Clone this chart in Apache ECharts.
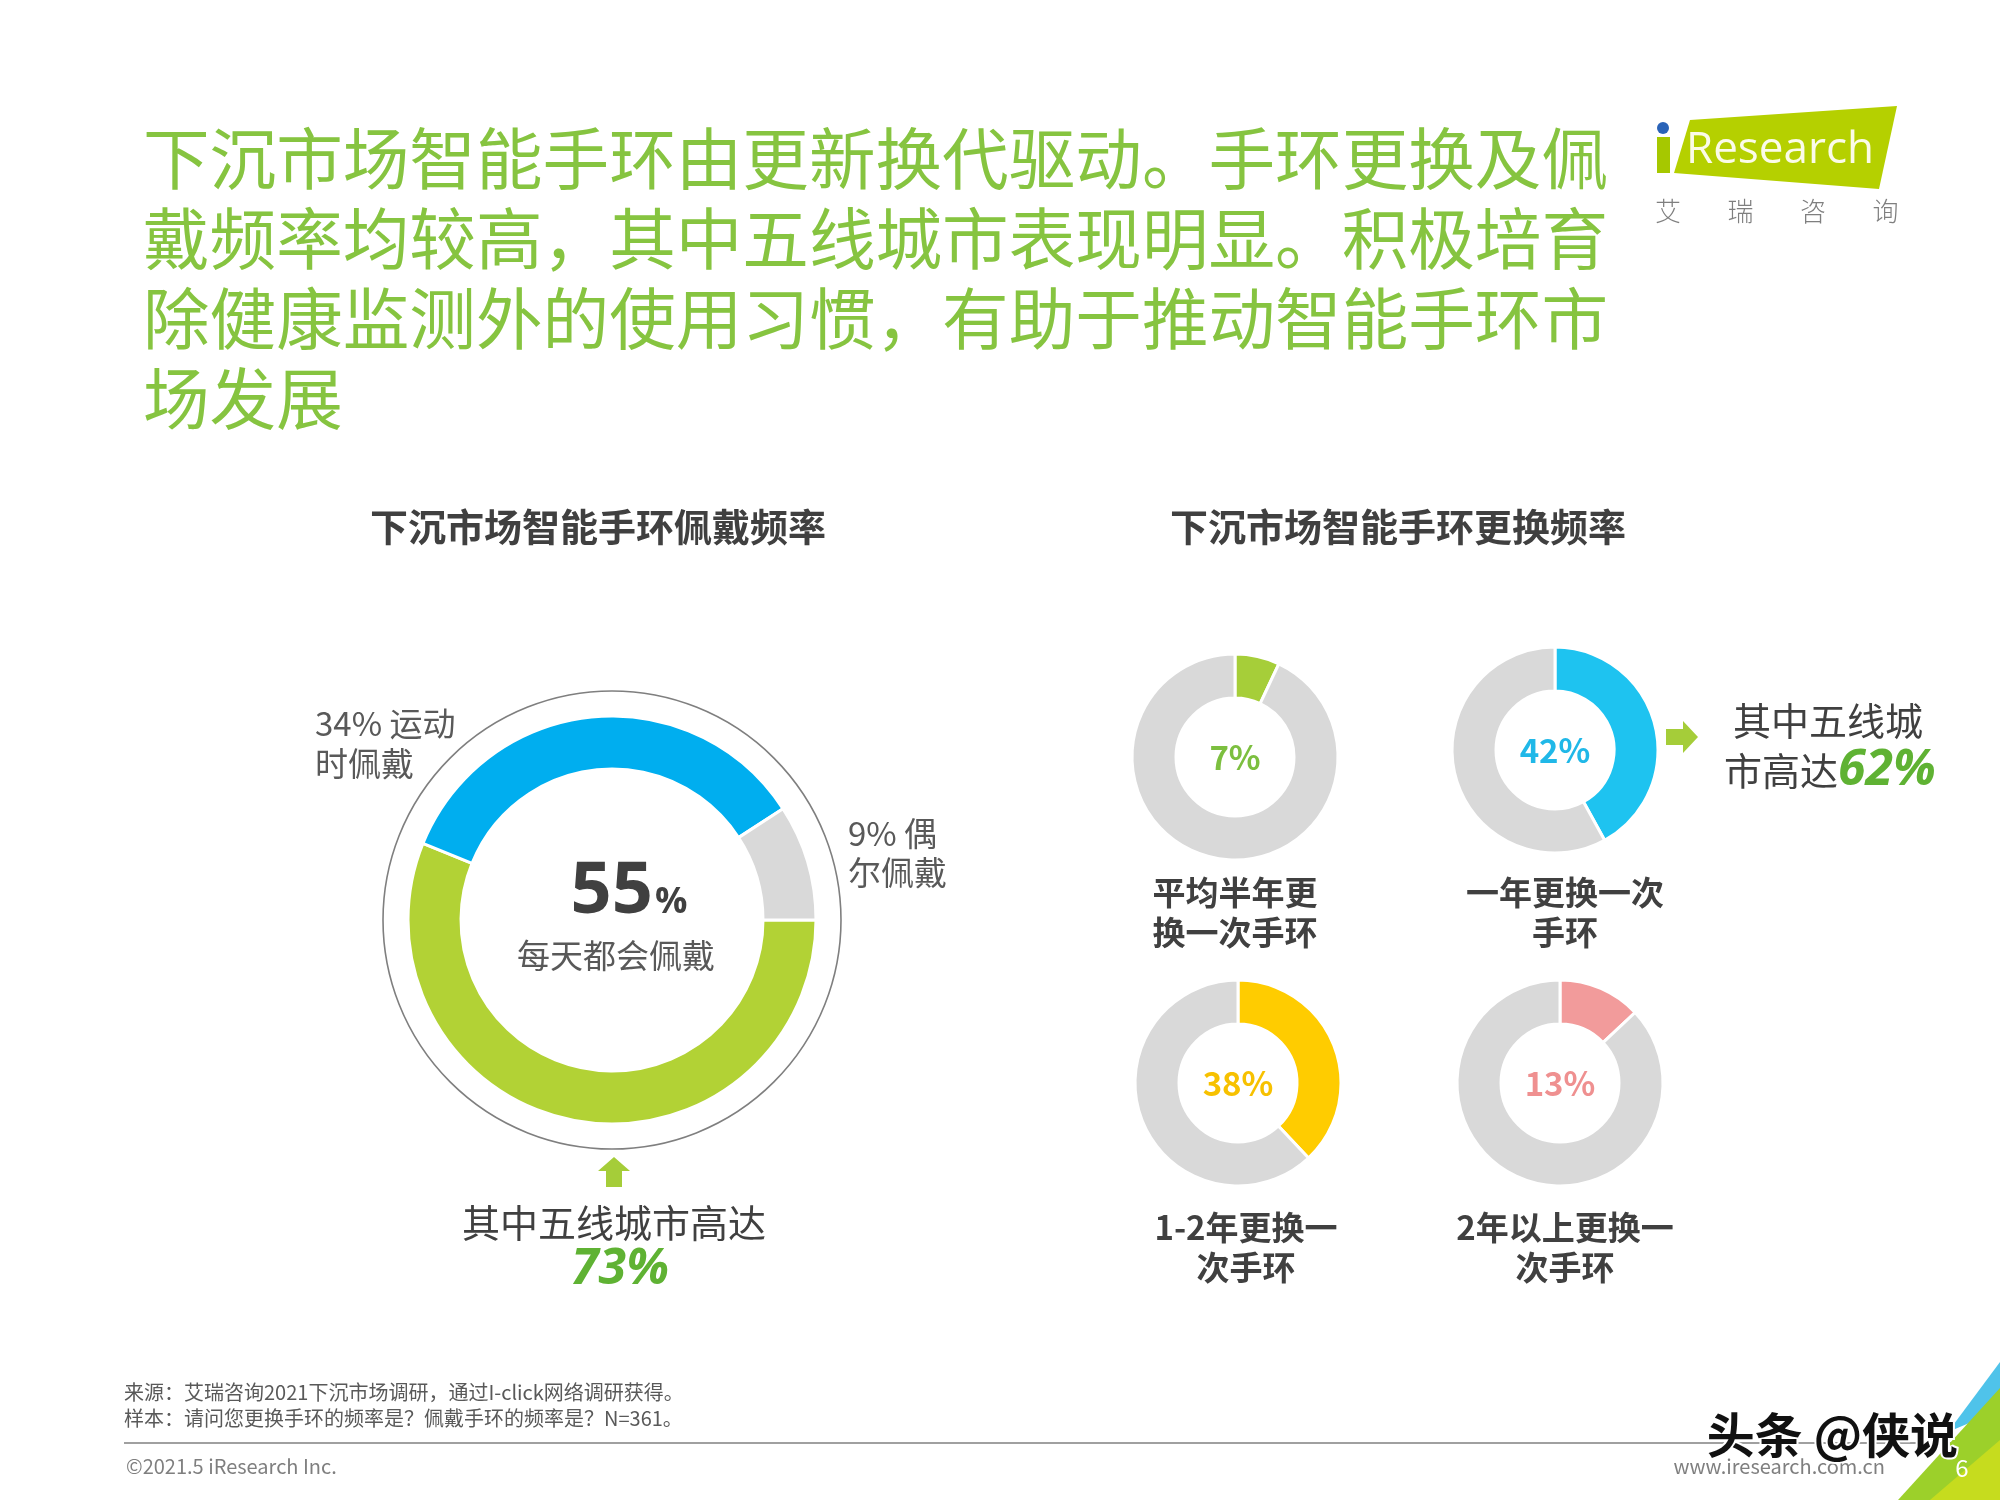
<!DOCTYPE html>
<html><head><meta charset="utf-8">
<script src="https://cdn.jsdelivr.net/npm/echarts@6/dist/echarts.min.js"></script>
<style>html,body{margin:0;padding:0;background:#fff}#c{width:2000px;height:1500px}</style>
</head><body><div id="c"></div>
<script>
// ---- data ----
const titleLines = ['下沉市场智能手环由更新换代驱动。手环更换及佩','戴频率均较高，其中五线城市表现明显。积极培育','除健康监测外的使用习惯，有助于推动智能手环市','场发展'];
const wearTitle = '下沉市场智能手环佩戴频率';
const wearCats = ['每天都会佩戴','运动时佩戴','偶尔佩戴'];
const wearValues = [55, 34, 9];
const wearFifthTier = 73;
const replTitle = '下沉市场智能手环更换频率';
const replCats = [['平均半年更','换一次手环'],['一年更换一次','手环'],['1-2年更换一','次手环'],['2年以上更换一','次手环']];
const replValues = [7, 42, 38, 13];
const replFifthTier = 62;
const sourceNotes = ['来源：艾瑞咨询2021下沉市场调研，通过I-click网络调研获得。','样本：请问您更换手环的频率是？佩戴手环的频率是？N=361。'];

// ---- styles ----
const FONT = '"Noto Sans CJK SC", "Noto Sans", sans-serif';
const wearColors = ['#b2d235', '#00aeef', '#d9d9d9'];
const replColors = ['#a6ce39', '#1ec3f0', '#ffcc00', '#f29b9b'];
const replTextColors = ['#7cbf3f', '#20b8e8', '#f7c100', '#ef9090'];
const GRAY = '#d9d9d9';
const centersSmall = [[1235, 757], [1555, 750], [1238, 1083], [1560, 1083]];

const chart = echarts.init(document.getElementById('c'), null, {renderer: 'canvas'});

const series = [];
series.push({
  type: 'pie', center: [612, 920], radius: [151, 204], startAngle: 0, clockwise: true,
  silent: true, animation: false, label: {show: false}, labelLine: {show: false},
  itemStyle: {borderColor: '#fff', borderWidth: 3},
  data: wearValues.map((v, i) => ({name: wearCats[i], value: v, itemStyle: {color: wearColors[i]}}))
});
replValues.forEach((v, i) => {
  series.push({
    type: 'pie', center: centersSmall[i], radius: [59, 103], startAngle: 90, clockwise: true,
    silent: true, animation: false, label: {show: false}, labelLine: {show: false},
    itemStyle: {borderColor: '#fff', borderWidth: 3},
    data: [{value: v, itemStyle: {color: replColors[i]}}, {value: 100 - v, itemStyle: {color: GRAY}}]
  });
});

const g = [];
// title
titleLines.forEach((t, i) => {
  g.push({type: 'text', style: {x: 143, y: 159 + i * 80, text: t, fill: '#86c440', font: '400 66.6px ' + FONT, textVerticalAlign: 'middle'}});
});
// logo
g.push({type: 'polygon', shape: {points: [[1690, 120], [1897, 106], [1879, 189], [1674, 173]]}, style: {fill: '#b5d000'}});
g.push({type: 'rect', shape: {x: 1657, y: 137, width: 13, height: 36}, style: {fill: '#a6c800'}});
g.push({type: 'circle', shape: {cx: 1663, cy: 128, r: 6}, style: {fill: '#2a63b8'}});
g.push({type: 'text', style: {x: 1686, y: 150, text: 'Research', fill: '#fbfbe8', font: '400 44px "Open Sans", sans-serif', textVerticalAlign: 'middle'}});
['艾', '瑞', '咨', '询'].forEach((t, i) => {
  g.push({type: 'text', style: {x: 1668 + i * 72.5, y: 211, text: t, fill: '#7f7f7f', font: '300 26px ' + FONT, textAlign: 'center', textVerticalAlign: 'middle'}});
});
// section titles
g.push({type: 'text', style: {x: 598, y: 527, text: wearTitle, fill: '#404040', font: 'bold 38px ' + FONT, textAlign: 'center', textVerticalAlign: 'middle'}});
g.push({type: 'text', style: {x: 1398, y: 527, text: replTitle, fill: '#404040', font: 'bold 38px ' + FONT, textAlign: 'center', textVerticalAlign: 'middle'}});
// outer thin circle
g.push({type: 'circle', shape: {cx: 612, cy: 920, r: 229}, style: {fill: 'none', stroke: '#7f7f7f', lineWidth: 1.6}});
// center texts
g.push({type: 'text', style: {x: 629, y: 892, text: '{a|' + wearValues[0] + '}{b|%}', textAlign: 'center', textVerticalAlign: 'middle',
  rich: {a: {fill: '#404040', font: 'bold 72px "Open Sans", ' + FONT}, b: {fill: '#404040', font: 'bold 36px "Open Sans", ' + FONT, padding: [22, 0, 0, 2]}}}});
g.push({type: 'text', style: {x: 616, y: 955, text: wearCats[0], fill: '#595959', font: '400 33px ' + FONT, textAlign: 'center', textVerticalAlign: 'middle'}});
g.push({type: 'text', style: {x: 315, y: 723, text: wearValues[1] + '% 运动', fill: '#595959', font: '400 33px ' + FONT, textVerticalAlign: 'middle'}});
g.push({type: 'text', style: {x: 315, y: 763, text: '时佩戴', fill: '#595959', font: '400 33px ' + FONT, textVerticalAlign: 'middle'}});
g.push({type: 'text', style: {x: 848, y: 833, text: wearValues[2] + '% 偶', fill: '#595959', font: '400 33px ' + FONT, textVerticalAlign: 'middle'}});
g.push({type: 'text', style: {x: 848, y: 872, text: '尔佩戴', fill: '#595959', font: '400 33px ' + FONT, textVerticalAlign: 'middle'}});
// up arrow
g.push({type: 'polygon', shape: {points: [[614, 1157], [630, 1171], [622, 1171], [622, 1187], [606, 1187], [606, 1171], [598, 1171]]}, style: {fill: '#a5cd39'}});
g.push({type: 'text', style: {x: 614, y: 1223, text: '其中五线城市高达', fill: '#404040', font: '400 38px ' + FONT, textAlign: 'center', textVerticalAlign: 'middle'}});
g.push({type: 'text', style: {x: 620, y: 1270, text: wearFifthTier + '%', fill: '#5fb233', font: 'italic bold 50px "Open Sans", ' + FONT, textAlign: 'center', textVerticalAlign: 'middle'}});
// small donut labels
replValues.forEach((v, i) => {
  const [cx, cy] = centersSmall[i];
  g.push({type: 'text', style: {x: cx, y: cy, text: v + '%', fill: replTextColors[i], font: '600 33px ' + FONT, textAlign: 'center', textVerticalAlign: 'middle'}});
});
const labelX = [1235, 1565, 1246, 1565];
const labelY = [892, 892, 1227, 1227];
replCats.forEach((lines, i) => {
  lines.forEach((t, j) => {
    g.push({type: 'text', style: {x: labelX[i], y: labelY[i] + j * 40, text: t, fill: '#404040', font: 'bold 33px ' + FONT, textAlign: 'center', textVerticalAlign: 'middle'}});
  });
});
// right arrow
g.push({type: 'polygon', shape: {points: [[1698, 737], [1683, 721], [1683, 729], [1666, 729], [1666, 745], [1683, 745], [1683, 753]]}, style: {fill: '#a5cd39'}});
g.push({type: 'text', style: {x: 1828, y: 721, text: '其中五线城', fill: '#404040', font: '400 38px ' + FONT, textAlign: 'center', textVerticalAlign: 'middle'}});
g.push({type: 'text', style: {x: 1724, y: 771, text: '{a|市高达}{b|' + replFifthTier + '%}', textVerticalAlign: 'middle',
  rich: {a: {fill: '#404040', font: '400 38px ' + FONT}, b: {fill: '#5fb233', font: 'italic bold 50px "Open Sans", ' + FONT}}}});
// footer
sourceNotes.forEach((t, i) => {
  g.push({type: 'text', style: {x: 124, y: 1392 + i * 26, text: t, fill: '#595959', font: '400 20px ' + FONT, textVerticalAlign: 'middle'}});
});
g.push({type: 'line', shape: {x1: 124, y1: 1443, x2: 1965, y2: 1443}, style: {stroke: '#a0a0a0', lineWidth: 2}});
g.push({type: 'text', style: {x: 126, y: 1466, text: '©2021.5 iResearch Inc.', fill: '#7f7f7f', font: '400 20px ' + FONT, textVerticalAlign: 'middle'}});
g.push({type: 'text', style: {x: 1885, y: 1466, text: 'www.iresearch.com.cn', fill: '#7f7f7f', font: '400 20px ' + FONT, textAlign: 'right', textVerticalAlign: 'middle'}});
// corner decoration
g.push({type: 'polygon', shape: {points: [[1948, 1432], [2000, 1362], [2000, 1410]]}, style: {fill: '#4fc3ea'}});
g.push({type: 'polygon', shape: {points: [[1898, 1500], [2000, 1388], [2000, 1500]]}, style: {fill: '#9cd02a'}});
g.push({type: 'polygon', shape: {points: [[1930, 1500], [2000, 1440], [2000, 1500]]}, style: {fill: '#c6dc1e'}});
g.push({type: 'text', style: {x: 1962, y: 1468, text: '6', fill: '#ffffff', font: '400 24px ' + FONT, textAlign: 'center', textVerticalAlign: 'middle'}});
// watermark
g.push({type: 'text', style: {x: 1958, y: 1435, text: '头条 @侠说', fill: '#111', stroke: '#fff', lineWidth: 4, font: 'bold 48px ' + FONT, textAlign: 'right', textVerticalAlign: 'middle'}});

chart.setOption({animation: false, backgroundColor: '#fff', series: series, graphic: {elements: g}});
</script></body></html>
